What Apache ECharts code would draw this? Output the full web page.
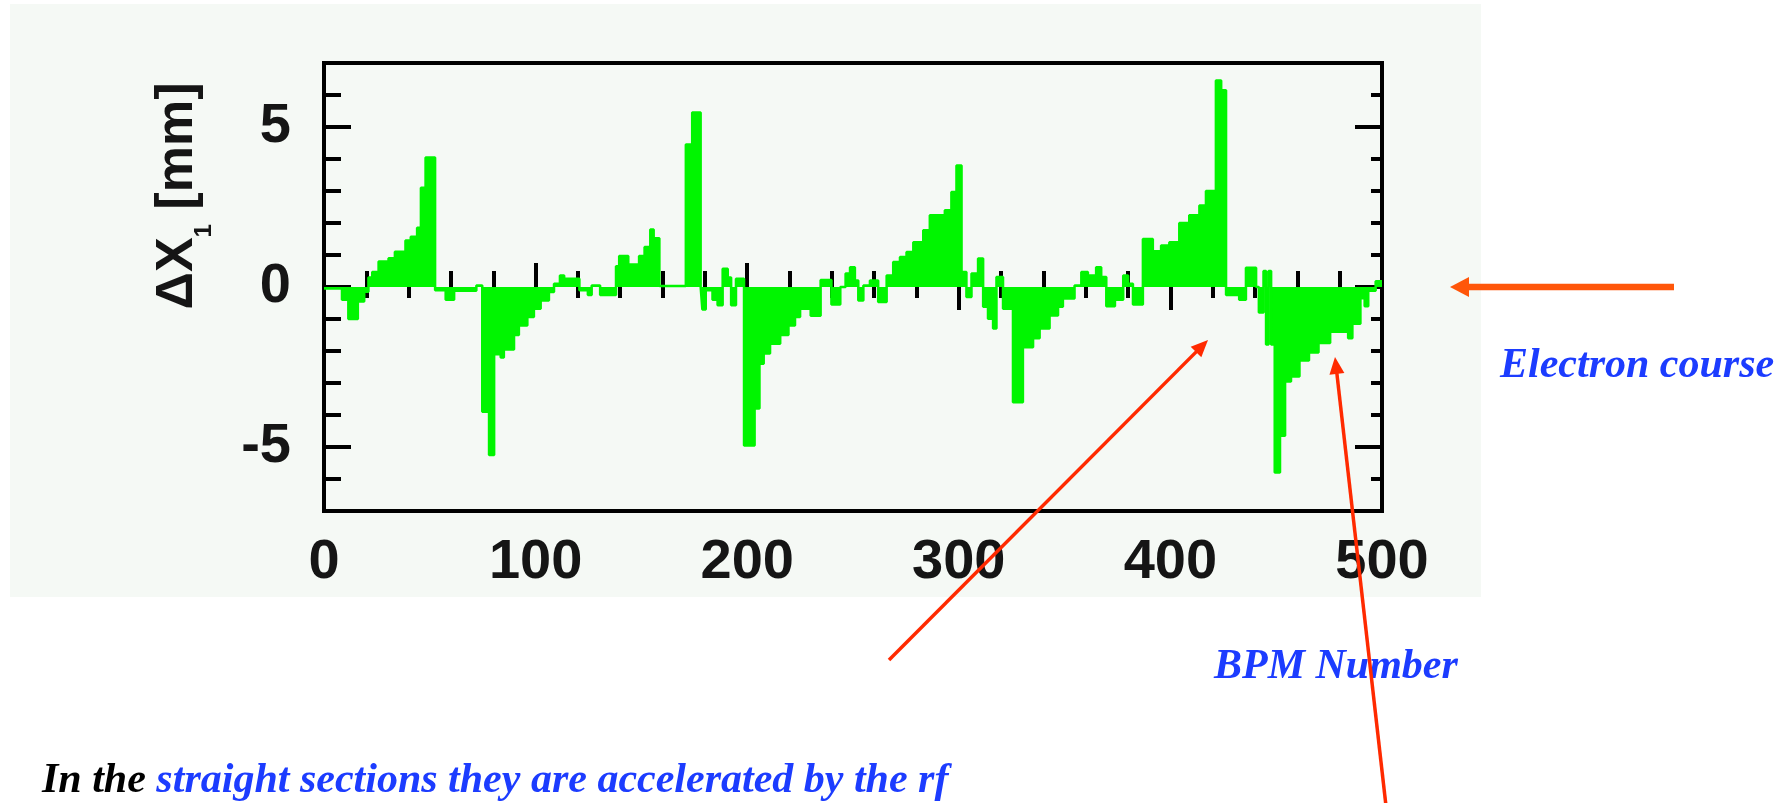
<!DOCTYPE html>
<html>
<head>
<meta charset="utf-8">
<title>Electron orbit deviation</title>
<script src="https://cdn.jsdelivr.net/npm/echarts@6.0.0/dist/echarts.min.js"></script>
<style>
  html, body { margin: 0; padding: 0; background: #ffffff; }
  #main { width: 1792px; height: 803px; }
</style>
</head>
<body>
<div id="main"></div>
<script>
// BPM number where each step of the histogram starts
const bpm = [
  0, 8.5, 11.5, 16, 19, 21, 22.8, 25.8, 30.5, 33.5,
  38.5, 41, 44, 45.8, 48, 52.5, 57.5, 61.5, 72, 74.8,
  78, 80.4, 83.5, 85, 89.8, 92.1, 96.1, 99.2, 102.4, 106.3,
  108.7, 111.5, 113.5, 120.7, 124.7, 126.5, 130.5, 138, 139.5, 143.8,
  148.9, 151.5, 154.2, 155.8, 158.5, 171, 174, 178, 178.8, 180.4,
  183.6, 186, 188.4, 190.8, 192.4, 194.7, 198.5, 203.5, 205.8, 207.8,
  210.8, 215.6, 219.5, 222.6, 225, 230, 234.7, 239.8, 244, 246.5,
  248.6, 250.9, 252.5, 254.9, 258, 261.9, 265.9, 269, 272.2, 275.3,
  278.5, 283.2, 286.3, 293.4, 296.5, 298.9, 301.3, 303.6, 306, 309.1,
  311.5, 313.8, 316.2, 317.8, 320.9, 325.6, 330.3, 335.1, 338.2, 342.9,
  346.9, 349.2, 354.7, 357.9, 361, 364.9, 367.3, 369.7, 373.8, 377.7,
  380, 382.3, 387, 391.7, 395.6, 399.5, 404.2, 408.9, 413.7, 416.8,
  421.5, 424, 426.3, 432.5, 435.7, 440.5, 441.8, 444, 445.2, 446.4,
  447.6, 449.3, 451.8, 454.2, 457, 461, 465.5, 470, 475.5, 484,
  486, 489.8, 491.8, 493.5, 497, 500
];
// orbit deviation ΔX1 [mm] on each step
const dx1 = [
  -0.05, -0.4, -1.0, -0.45, -0.15, 0.3, 0.47, 0.8, 0.9, 1.1,
  1.45, 1.57, 1.85, 3.1, 4.05, -0.1, -0.4, -0.12, 0.05, -3.9,
  -5.25, -2.1, -2.2, -1.95, -1.5, -1.2, -0.94, -0.68, -0.42, -0.16,
  0.1, 0.36, 0.26, -0.1, -0.25, 0.05, -0.25, 0.65, 0.97, 0.7,
  0.97, 1.25, 1.8, 1.52, 0.03, 4.45, 5.45, 0.0, -0.7, -0.1,
  -0.4, -0.57, 0.57, 0.3, -0.57, 0.26, -4.95, -3.8, -2.4, -2.08,
  -1.77, -1.5, -1.2, -0.94, -0.68, -0.9, 0.22, -0.55, 0.0, 0.42,
  0.62, 0.2, -0.42, 0.05, 0.2, -0.47, 0.36, 0.78, 0.94, 1.09,
  1.4, 1.77, 2.24, 2.4, 2.97, 3.8, 0.47, -0.31, 0.42, 0.89,
  -0.62, -0.99, -1.3, 0.31, -0.68, -3.6, -1.88, -1.6, -1.3, -0.89,
  -0.62, -0.36, 0.05, 0.47, 0.36, 0.62, 0.31, -0.6, -0.4, 0.36,
  0.1, -0.55, 1.5, 1.12, 1.3, 1.4, 2.0, 2.24, 2.55, 3.0,
  6.45, 6.15, -0.25, -0.4, 0.6, 0.0, -0.8, 0.5, -1.8, 0.5,
  -1.8, -5.8, -4.65, -2.95, -2.8, -2.3, -2.05, -1.75, -1.4, -1.6,
  -1.15, -0.35, -0.6, -0.12, 0.18, 0.18
];
// tick labels
const yMajor = [-5, 0, 5];
const xRange = [0, 500];
const yRange = [-7, 7];

const chart = echarts.init(document.getElementById('main'));

const labelFont = {
  fontFamily: 'Liberation Sans, Arial, sans-serif',
  fontWeight: 'bold',
  fontSize: 56,
  color: '#151515'
};
const tickLine = { color: '#000', width: 4 };
const noteFont = {
  fontFamily: 'Liberation Serif, Times New Roman, serif',
  fontStyle: 'italic',
  fontWeight: 'bold',
  fontSize: 42
};
const blue = '#1c3cff';

// arrow = a line plus a triangular head
function arrow(x1, y1, x2, y2, color, width, len, half) {
  const d = Math.hypot(x2 - x1, y2 - y1);
  const ux = (x2 - x1) / d, uy = (y2 - y1) / d;
  const bx = x2 - ux * len, by = y2 - uy * len;
  return [
    {
      type: 'line', z: 50,
      shape: { x1: x1, y1: y1, x2: bx + ux * 2, y2: by + uy * 2 },
      style: { stroke: color, lineWidth: width }
    },
    {
      type: 'polygon', z: 50,
      shape: { points: [[x2, y2], [bx - uy * half, by + ux * half], [bx + uy * half, by - ux * half]] },
      style: { fill: color }
    }
  ];
}

function xAxisOf(pos, major, minor, labels) {
  return {
    type: 'value', position: pos, min: xRange[0], max: xRange[1], interval: 100,
    axisLine: { show: false },
    splitLine: { show: false },
    axisTick: { inside: true, length: major, lineStyle: tickLine },
    minorTick: { show: true, splitNumber: 5, length: minor, lineStyle: tickLine },
    axisLabel: labels ? Object.assign({ margin: 24 }, labelFont) : { show: false }
  };
}

function yAxisOf(pos, len, isMajor, labels) {
  const ax = {
    type: 'value', position: pos, min: yRange[0], max: yRange[1],
    axisLine: { show: false },
    splitLine: { show: false },
    axisTick: { inside: true, length: len, lineStyle: tickLine },
    axisLabel: { show: false }
  };
  if (isMajor) {
    ax.axisTick.customValues = yMajor;
    if (labels) {
      ax.axisLabel = Object.assign({ margin: 33, customValues: yMajor }, labelFont);
    }
  } else {
    ax.interval = 1;
  }
  return ax;
}

const option = {
  animation: false,
  grid: {
    left: 324, right: 410, top: 63, bottom: 292,
    show: true, borderColor: '#000', borderWidth: 4, backgroundColor: 'transparent'
  },
  xAxis: [
    xAxisOf('bottom', 24, 16, true),
    xAxisOf('top', 23, 11, false)
  ],
  yAxis: [
    yAxisOf('left', 27, true, true),
    yAxisOf('left', 17, false, false),
    yAxisOf('right', 27, true, false),
    yAxisOf('right', 11, false, false)
  ],
  series: [{
    type: 'line',
    step: 'end',
    xAxisIndex: 0,
    yAxisIndex: 0,
    symbol: 'none',
    data: bpm.map((b, i) => [b, dx1[i]]),
    lineStyle: { color: '#00f500', width: 2.5 },
    areaStyle: { color: '#00f500', opacity: 1 }
  }],
  graphic: [
    {
      type: 'rect', z: -10,
      shape: { x: 10, y: 4, width: 1471, height: 593 },
      style: { fill: '#f5f9f5' }
    },
    {
      type: 'text', x: 178, y: 196, rotation: Math.PI / 2,
      style: {
        text: '{a|ΔX}{s|1}{a| [mm]}',
        align: 'center', verticalAlign: 'middle',
        rich: {
          a: { fontFamily: labelFont.fontFamily, fontWeight: 'bold', fontSize: 52, lineHeight: 76, verticalAlign: 'middle', fill: '#151515' },
          s: { fontFamily: labelFont.fontFamily, fontWeight: 'bold', fontSize: 24, lineHeight: 24, verticalAlign: 'bottom', fill: '#151515' }
        }
      }
    },
    {
      type: 'text', x: 1500, y: 366,
      style: Object.assign({ text: 'Electron course', fill: blue, align: 'left', verticalAlign: 'middle' }, noteFont)
    },
    {
      type: 'text', x: 1214, y: 667,
      style: Object.assign({ text: 'BPM Number', fill: blue, align: 'left', verticalAlign: 'middle' }, noteFont)
    },
    {
      type: 'text', x: 42, y: 781,
      style: {
        text: '{k|In the }{b|straight sections they are accelerated by the rf}',
        align: 'left', verticalAlign: 'middle',
        rich: {
          k: Object.assign({ fill: '#000' }, noteFont),
          b: Object.assign({ fill: blue }, noteFont)
        }
      }
    }
  ]
    .concat(arrow(1674, 287, 1450, 287, '#ff560a', 6.5, 19, 10))
    .concat(arrow(889, 660, 1208, 340, '#ff2a00', 3.5, 17, 7.5))
    .concat(arrow(1386, 806, 1335, 357, '#ff2a00', 3.5, 17, 7.5))
};

chart.setOption(option);
</script>
</body>
</html>
